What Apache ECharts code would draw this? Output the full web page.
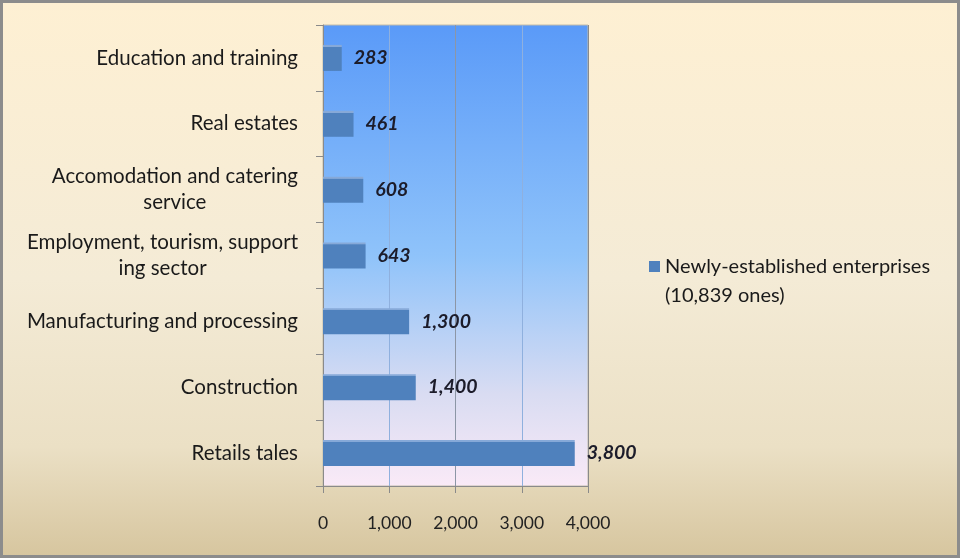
<!DOCTYPE html>
<html>
<head>
<meta charset="utf-8">
<script src="https://cdn.jsdelivr.net/npm/echarts@6/dist/echarts.min.js"></script>
<style>
html,body{margin:0;padding:0;background:#fff;}
#chart{width:960px;height:558px;}
</style>
</head>
<body>
<div id="chart"></div>
<script>
var categories = ['Education and training', 'Real estates', 'Accomodation and catering\nservice', 'Employment, tourism, support\ning sector', 'Manufacturing and processing', 'Construction', 'Retails tales'];
var values = [283, 461, 608, 643, 1300, 1400, 3800];
var seriesName = 'Newly-established enterprises\n(10,839 ones)';
var xTicks = [0, 1000, 2000, 3000, 4000];

var FONT = 'Lato';
var chart = echarts.init(document.getElementById('chart'));
chart.setOption({
  backgroundColor: new echarts.graphic.LinearGradient(0, 0, 0, 1, [
    {offset: 0, color: '#fef0d3'},
    {offset: 0.5, color: '#f4ebd6'},
    {offset: 0.8, color: '#ebe0c5'},
    {offset: 1, color: '#d6c59e'}
  ]),
  animation: false,
  textStyle: {fontFamily: FONT},
  grid: {
    left: 323, top: 25, width: 265, height: 461,
    show: true,
    backgroundColor: new echarts.graphic.LinearGradient(0, 0, 0, 1, [
      {offset: 0, color: '#5a9af8'},
      {offset: 0.5, color: '#8fc3fa'},
      {offset: 0.8, color: '#d9dcf2'},
      {offset: 1, color: '#faeaf7'}
    ]),
    borderColor: '#c2bcab',
    borderWidth: 1
  },
  legend: {
    left: 649, top: 252, padding: 0,
    itemWidth: 11, itemHeight: 40,
    icon: 'path://M0,40M0,0L11,0L11,11L0,11Z',
    itemStyle: {color: '#4f81bd'},
    textStyle: {fontFamily: FONT, fontSize: 20, color: '#1a1a1a', lineHeight: 29},
    data: [seriesName]
  },
  xAxis: {
    type: 'value', min: 0, max: 4000, interval: 1000,
    axisLine: {show: true, lineStyle: {color: '#8a8a8a', width: 1}},
    axisTick: {show: true, length: 7, lineStyle: {color: '#8a8a8a'}},
    axisLabel: {
      margin: 28, fontSize: 17.5, color: '#222', fontFamily: FONT,
      formatter: function (v) { return xTicks.indexOf(v) >= 0 ? v.toLocaleString('en-US') : ''; }
    },
    splitLine: {show: true, lineStyle: {color: ['#8a8a8a', '#8fb0de', '#8c96a6', '#8fb0de', '#8a8a8a'], width: 1}}
  },
  yAxis: {
    type: 'category', inverse: true, data: categories,
    axisLine: {show: true, lineStyle: {color: '#8a8a8a', width: 1}},
    axisTick: {show: true, length: 7, lineStyle: {color: '#8a8a8a'}},
    axisLabel: {
      margin: 25, fontSize: 20.5, color: '#1a1a1a', fontFamily: FONT, lineHeight: 26,
      formatter: function (v) {
        return v.split('\n').map(function (s) { return '{c|' + s + '}'; }).join('\n');
      },
      rich: {c: {align: 'center', fontSize: 20.5, fontFamily: FONT, color: '#1a1a1a', lineHeight: 26}}
    }
  },
  series: [{
    name: seriesName,
    type: 'bar',
    data: values,
    barWidth: 26,
    itemStyle: {
      color: new echarts.graphic.LinearGradient(0, 0, 0, 1, [
        {offset: 0, color: '#86a9d8'},
        {offset: 0.07, color: '#86a9d8'},
        {offset: 0.08, color: '#4f81bd'},
        {offset: 1, color: '#4f81bd'}
      ])
    },
    label: {
      show: true, position: 'right', distance: 12,
      fontSize: 19.5, fontStyle: 'italic', fontWeight: 'bold', color: '#1c1c2a', fontFamily: FONT,
      formatter: function (p) { return p.value.toLocaleString('en-US'); }
    }
  }],
  graphic: [{
    type: 'rect', z: 100, silent: true,
    shape: {x: 1.5, y: 1.5, width: 957, height: 555},
    style: {fill: 'none', stroke: '#8c8c8c', lineWidth: 3}
  }]
});
</script>
</body>
</html>
